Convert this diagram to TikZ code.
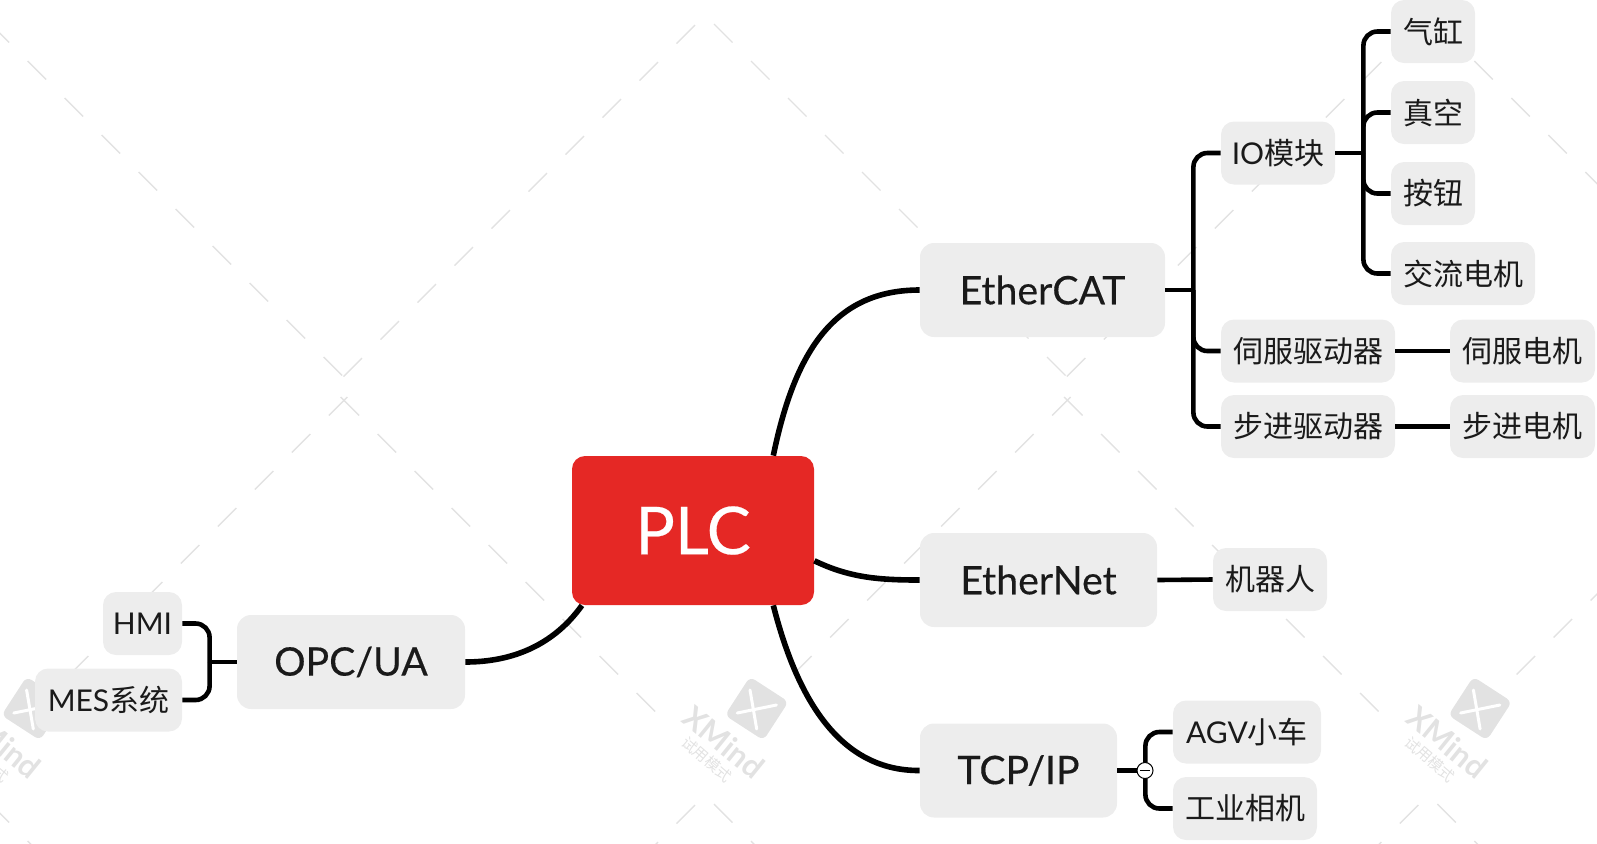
\documentclass[tikz,border=0pt]{standalone}
\usepackage{fontspec}
\setmainfont{Lato}
\newfontfamily\heavy{Lato}[FakeBold=0.35]
\newfontfamily\cjk{Noto Sans CJK SC}
\definecolor{plcred}{HTML}{E52825}
\definecolor{boxgray}{HTML}{EDEDED}
\definecolor{markgray}{HTML}{E2E2E2}
\definecolor{inkblack}{HTML}{1A1A1A}
\begin{document}
\begin{tikzpicture}[x=0.5pt, y=-0.5pt,
        rootbox/.style={fill=plcred, text=white, rounded corners=6.5pt, inner sep=0pt, minimum width=121pt, minimum height=74.5pt, font=\fontsize{33pt}{33pt}\selectfont\heavy},
        mainbox/.style={fill=boxgray, text=inkblack, rounded corners=7pt, inner sep=0pt, minimum height=47pt, font=\fontsize{19.6pt}{19.6pt}\selectfont\heavy},
        leafbox/.style={fill=boxgray, text=inkblack, rounded corners=6.5pt, inner sep=0pt, minimum height=31.5pt, font=\fontsize{15pt}{15pt}\selectfont},
        mainline/.style={line width=2.8pt, black},
        branch/.style={line width=2.3pt, black, rounded corners=7pt},
        foldmark/.style={circle, draw=black, line width=0.5pt, fill=white, inner sep=0pt, minimum size=8pt},
        wmdash/.style={markgray, line width=0.7pt},
        wmlogo/.style={fill=markgray, rounded corners=3pt, inner sep=0pt, minimum size=23pt, rotate=-33},
        wmcross/.style={white, line width=1.5pt, line cap=round},
        wmname/.style={text=markgray, inner sep=0pt, font=\fontsize{15.5pt}{15.5pt}\selectfont\bfseries, rotate=-39},
        wmnote/.style={text=markgray, inner sep=0pt, font=\fontsize{7.5pt}{7.5pt}\selectfont\cjk, rotate=-41}]
    \clip (0,0) rectangle (1597,843);
    \foreach \t in {0,1,2,3} {
        \begin{scope}[shift={(723.4*\t,0)}]
            \foreach \k in {0,...,9} {
                \draw[wmdash] ({-9.4+37*\k},{24+37*\k}) -- ++(18.5,18.5);
                \draw[wmdash] ({-28.4-37*\k},{25+37*\k}) -- ++(-18.5,18.5);
            }
            \foreach \k in {0,...,8}
                \draw[wmdash] ({-382.7+37*\k},{397+37*\k}) -- ++(18.5,18.5);
            \foreach \k in {0,...,7}
                \draw[wmdash] ({-376.1-37*\k},{397+37*\k}) -- ++(-18.5,18.5);
            \foreach \k in {0,1} {
                \draw[wmdash] ({-9.4+37*\k},{804+37*\k}) -- ++(18.5,18.5);
                \draw[wmdash] ({-28.4-37*\k},{805+37*\k}) -- ++(-18.5,18.5);
            }
        \end{scope}
    }
    \foreach \t in {0,1,2} {
        \begin{scope}[shift={(723.4*\t,0)}]
            \node[wmlogo] (logo\t) at (33.3,708.5) {};
            \draw[wmcross] (26.6,690) -- (33.3,729);
            \draw[wmcross] (13.8,713) -- (53,705);
            \node[wmname] (name\t) at (0.5,742) {XMind};
            \node[wmnote] (note\t) at (-16.5,759.5) {试用模式};
        \end{scope}
    }
    \node[rootbox] (plc) at (693,530.5) {PLC};
    \node[mainbox, minimum width=122.5pt] (ethercat) at (1042.5,290) {EtherCAT};
    \node[mainbox, minimum width=118.5pt] (ethernet) at (1038.5,580) {EtherNet};
    \node[mainbox, minimum width=98.5pt] (tcpip) at (1018.5,770.5) {TCP/IP};
    \node[mainbox, minimum width=114pt] (opcua) at (351,662) {OPC/UA};
    \node[leafbox, minimum width=39.5pt] (hmi) at (142.5,623.5) {HMI};
    \node[leafbox, minimum width=73.5pt] (mes) at (108.5,700) {MES{\cjk 系统}};
    \node[leafbox, minimum width=57pt] (iomod) at (1278,153) {IO{\cjk 模块}};
    \node[leafbox, minimum width=42pt] (cylinder) at (1433,31.5) {\cjk 气缸};
    \node[leafbox, minimum width=42pt] (vacuum) at (1433,112.5) {\cjk 真空};
    \node[leafbox, minimum width=42pt] (button) at (1433,193.5) {\cjk 按钮};
    \node[leafbox, minimum width=72pt] (acmotor) at (1463,273.5) {\cjk 交流电机};
    \node[leafbox, minimum width=87pt] (servodrv) at (1308,351) {\cjk 伺服驱动器};
    \node[leafbox, minimum width=72.5pt] (servomot) at (1522.5,351) {\cjk 伺服电机};
    \node[leafbox, minimum width=87pt] (stepdrv) at (1308,426.5) {\cjk 步进驱动器};
    \node[leafbox, minimum width=72.5pt] (stepmot) at (1522.5,426.5) {\cjk 步进电机};
    \node[leafbox, minimum width=57pt] (robot) at (1270,579.5) {\cjk 机器人};
    \node[leafbox, minimum width=74pt] (agv) at (1247,732) {AGV{\cjk 小车}};
    \node[leafbox, minimum width=72pt] (camera) at (1245,808.5) {\cjk 工业相机};
    \draw[mainline] (plc.43.3) .. controls (795,350) and (835,290) .. (ethercat.west);
    \draw[mainline] (plc.-14) .. controls (850,578) and (880,580) .. (ethernet.west);
    \draw[mainline] (plc.-43.3) .. controls (795,690) and (835,771) .. (tcpip.west);
    \draw[mainline] (plc.214.6) .. controls (550,650) and (505,662) .. (opcua.east);
    \draw[branch] (ethercat.east) -- ++(28,0) coordinate (ethercattrunk);
    \draw[branch] (ethercattrunk) |- (iomod.west);
    \draw[branch] (ethercattrunk) |- (servodrv.west);
    \draw[branch] (ethercattrunk) |- (stepdrv.west);
    \draw[branch] (iomod.east) -- ++(28,0) coordinate (iotrunk);
    \draw[branch] (iotrunk) |- (cylinder.west);
    \draw[branch] (iotrunk) |- (vacuum.west);
    \draw[branch] (iotrunk) |- (button.west);
    \draw[branch] (iotrunk) |- (acmotor.west);
    \draw[branch] (servodrv.east) -- (servomot.west);
    \draw[branch] (stepdrv.east) -- (stepmot.west);
    \draw[branch] (ethernet.east) -- (robot.west);
    \draw[branch] (opcua.west) -- ++(-27,0) coordinate (opctrunk);
    \draw[branch] (opctrunk) |- (hmi.east);
    \draw[branch] (opctrunk) |- (mes.east);
    \draw[branch] (tcpip.east) -- ++(28,0) coordinate (tcptrunk);
    \draw[branch] (tcptrunk) |- (agv.west);
    \draw[branch] (tcptrunk) |- (camera.west);
    \node[foldmark] (fold) at (1145,770.5) {};
    \draw[line width=0.6pt, shorten >=1.8pt, shorten <=1.8pt] (fold.west) -- (fold.east);
\end{tikzpicture}
\end{document}
